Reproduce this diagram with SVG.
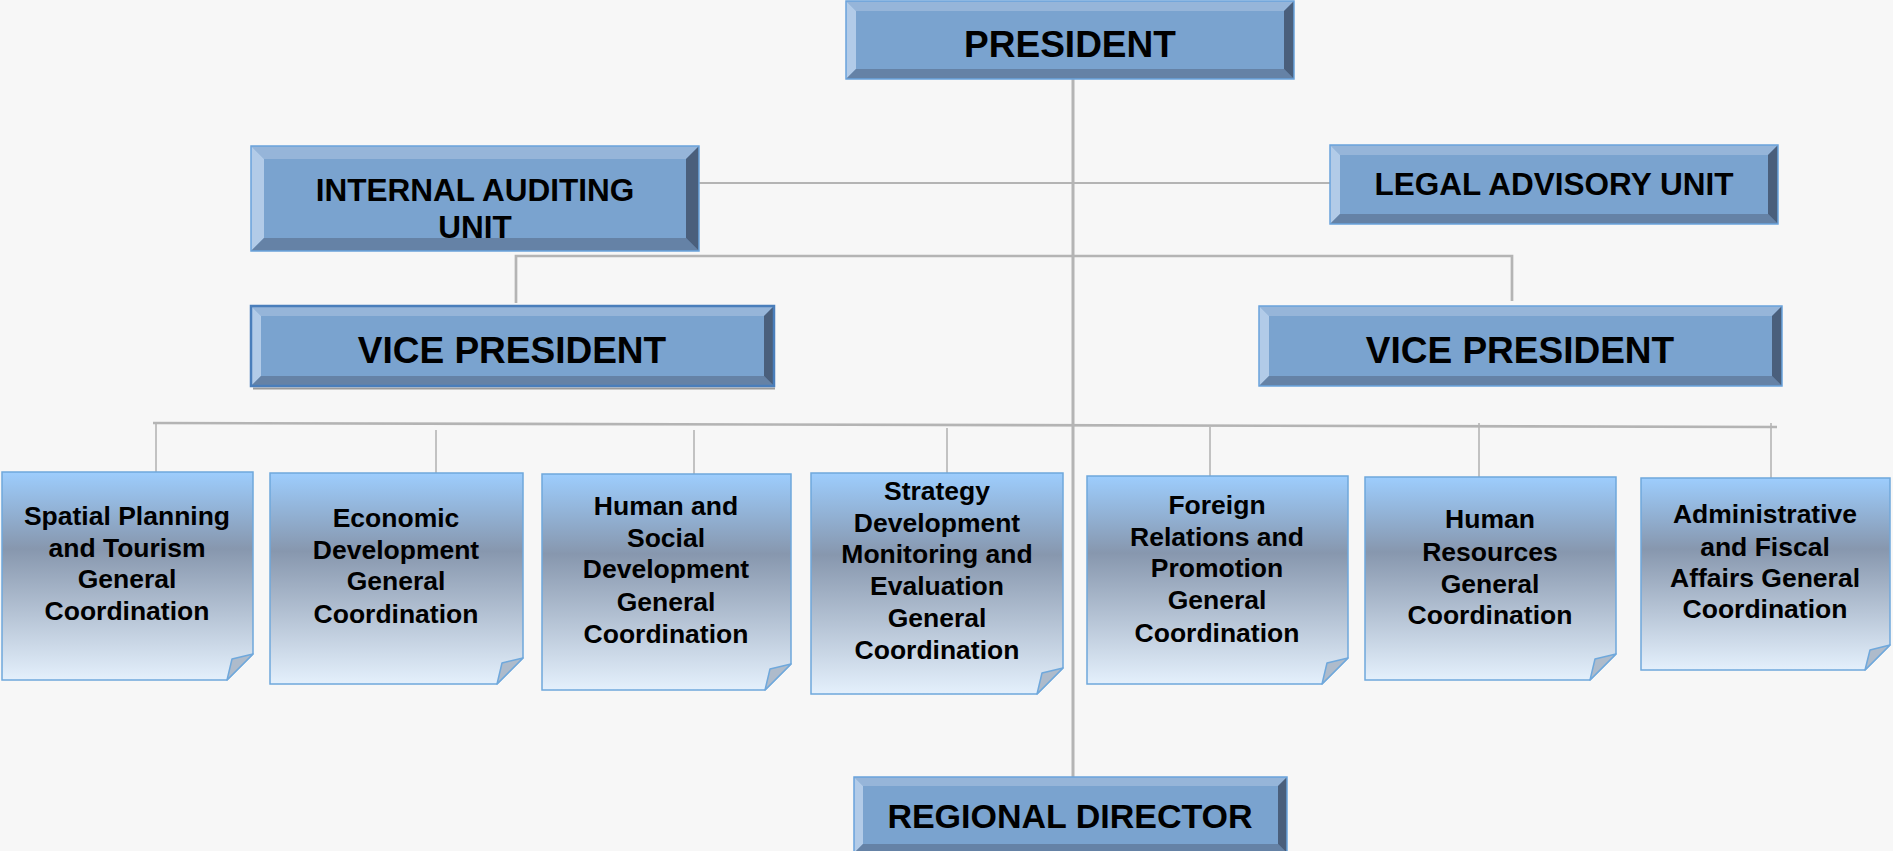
<svg xmlns="http://www.w3.org/2000/svg" width="1893" height="851" viewBox="0 0 1893 851">
<defs>
<linearGradient id="note" x1="0" y1="0" x2="0" y2="1">
<stop offset="0" stop-color="#9dcdfd"/>
<stop offset="0.37" stop-color="#8797ae"/>
<stop offset="1" stop-color="#e4f0fc"/>
</linearGradient>
<style>
.face{fill:#7aa3cf}
.bt{fill:#96b5d9}
.bl{fill:#b2cbe8}
.bb{fill:#6582a6}
.br{fill:#4a5f7c}
.edge{fill:none;stroke:#6aa3dc;stroke-width:1.5}
.edge2{fill:none;stroke:#4a7ebb;stroke-width:2.5}
.big{font-family:"Liberation Sans",Arial,sans-serif;font-weight:bold;fill:#000;text-anchor:middle}
.note{fill:url(#note);stroke:#6fa8dc;stroke-width:1.5}
.fold{fill:#aebbcb;stroke:#6fa8dc;stroke-width:1.5;stroke-linejoin:round}
.nt{font-family:"Liberation Sans",Arial,sans-serif;font-weight:bold;font-size:26.5px;fill:#000;text-anchor:middle}
.ln{stroke:#b4b4b4;fill:none}
</style>
</defs>
<rect x="0" y="0" width="1893" height="851" fill="#f7f7f7"/>

<g id="connectors">
<line class="ln" x1="1073" y1="79" x2="1073" y2="777" stroke-width="3"/>
<line class="ln" x1="699" y1="183" x2="1330" y2="183" stroke-width="2"/>
<polyline class="ln" points="516,303 516,256 1512,256 1512,301" stroke-width="2.7"/>
<line class="ln" x1="153" y1="423" x2="1777" y2="427" stroke-width="2.7"/>
<g stroke-width="1.6">
<line class="ln" x1="156" y1="423" x2="156" y2="472"/>
<line class="ln" x1="436" y1="430" x2="436" y2="473"/>
<line class="ln" x1="694" y1="430" x2="694" y2="474"/>
<line class="ln" x1="947" y1="428" x2="947" y2="473"/>
<line class="ln" x1="1210" y1="427" x2="1210" y2="476"/>
<line class="ln" x1="1479" y1="423" x2="1479" y2="477"/>
<line class="ln" x1="1771" y1="423" x2="1771" y2="478"/>
</g>
</g>

<g id="president">
<rect class="face" x="846" y="1" width="448" height="78"/>
<polygon class="bt" points="846,1 1294,1 1284,11 856,11"/>
<polygon class="bl" points="846,1 856,11 856,69 846,79"/>
<polygon class="bb" points="846,79 856,69 1284,69 1294,79"/>
<polygon class="br" points="1294,1 1294,79 1284,69 1284,11"/>
<rect class="edge" x="846" y="1" width="448" height="78"/>
<text class="big" x="1070" y="57" font-size="37">PRESIDENT</text>
</g>

<g id="internal-auditing">
<rect class="face" x="251" y="146" width="448" height="105"/>
<polygon class="bt" points="251,146 699,146 686,159 264,159"/>
<polygon class="bl" points="251,146 264,159 264,238 251,251"/>
<polygon class="bb" points="251,251 264,238 686,238 699,251"/>
<polygon class="br" points="699,146 699,251 686,238 686,159"/>
<rect class="edge" x="251" y="146" width="448" height="105"/>
<text class="big" x="475" y="201" font-size="31.5">INTERNAL AUDITING</text>
<text class="big" x="475" y="238" font-size="31.5">UNIT</text>
</g>

<g id="legal-advisory">
<rect class="face" x="1330" y="145" width="448" height="79"/>
<polygon class="bt" points="1330,145 1778,145 1768,155 1340,155"/>
<polygon class="bl" points="1330,145 1340,155 1340,214 1330,224"/>
<polygon class="bb" points="1330,224 1340,214 1768,214 1778,224"/>
<polygon class="br" points="1778,145 1778,224 1768,214 1768,155"/>
<rect class="edge" x="1330" y="145" width="448" height="79"/>
<text class="big" x="1554" y="195" font-size="31.5">LEGAL ADVISORY UNIT</text>
</g>

<g id="vice-president-left">
<line x1="253" y1="388.5" x2="775" y2="388.5" stroke="#9a9a9a" stroke-width="2"/>
<rect class="face" x="251" y="306" width="523" height="80"/>
<polygon class="bt" points="251,306 774,306 764,316 261,316"/>
<polygon class="bl" points="251,306 261,316 261,376 251,386"/>
<polygon class="bb" points="251,386 261,376 764,376 774,386"/>
<polygon class="br" points="774,306 774,386 764,376 764,316"/>
<rect class="edge2" x="251" y="306" width="523" height="80"/>
<text class="big" x="512" y="363" font-size="37">VICE PRESIDENT</text>
</g>

<g id="vice-president-right">
<rect class="face" x="1259" y="306" width="523" height="80"/>
<polygon class="bt" points="1259,306 1782,306 1772,316 1269,316"/>
<polygon class="bl" points="1259,306 1269,316 1269,376 1259,386"/>
<polygon class="bb" points="1259,386 1269,376 1772,376 1782,386"/>
<polygon class="br" points="1782,306 1782,386 1772,376 1772,316"/>
<rect class="edge" x="1259" y="306" width="523" height="80"/>
<text class="big" x="1520" y="363" font-size="37">VICE PRESIDENT</text>
</g>

<g id="regional-director">
<rect class="face" x="854" y="777" width="433" height="76"/>
<polygon class="bt" points="854,777 1287,777 1278,786 863,786"/>
<polygon class="bl" points="854,777 863,786 863,844 854,853"/>
<polygon class="bb" points="854,853 863,844 1278,844 1287,853"/>
<polygon class="br" points="1287,777 1287,853 1278,844 1278,786"/>
<rect class="edge" x="854" y="777" width="433" height="76"/>
<text class="big" x="1070" y="828" font-size="34">REGIONAL DIRECTOR</text>
</g>

<g id="spatial-planning">
<path class="note" d="M2,472 H253 V654 L227,680 H2 Z"/>
<polygon class="fold" points="253,654 232,659 227,680"/>
<text class="nt"><tspan x="127" y="525">Spatial Planning</tspan><tspan x="127" y="557">and Tourism</tspan><tspan x="127" y="588">General</tspan><tspan x="127" y="620">Coordination</tspan></text>
</g>

<g id="economic-development">
<path class="note" d="M270,473 H523 V658 L497,684 H270 Z"/>
<polygon class="fold" points="523,658 502,663 497,684"/>
<text class="nt"><tspan x="396" y="527">Economic</tspan><tspan x="396" y="559">Development</tspan><tspan x="396" y="590">General</tspan><tspan x="396" y="623">Coordination</tspan></text>
</g>

<g id="human-social-development">
<path class="note" d="M542,474 H791 V664 L765,690 H542 Z"/>
<polygon class="fold" points="791,664 770,669 765,690"/>
<text class="nt"><tspan x="666" y="515">Human and</tspan><tspan x="666" y="547">Social</tspan><tspan x="666" y="578">Development</tspan><tspan x="666" y="611">General</tspan><tspan x="666" y="643">Coordination</tspan></text>
</g>

<g id="strategy-development">
<path class="note" d="M811,473 H1063 V668 L1037,694 H811 Z"/>
<polygon class="fold" points="1063,668 1042,673 1037,694"/>
<text class="nt"><tspan x="937" y="500">Strategy</tspan><tspan x="937" y="532">Development</tspan><tspan x="937" y="563">Monitoring and</tspan><tspan x="937" y="595">Evaluation</tspan><tspan x="937" y="627">General</tspan><tspan x="937" y="659">Coordination</tspan></text>
</g>

<g id="foreign-relations">
<path class="note" d="M1087,476 H1348 V658 L1322,684 H1087 Z"/>
<polygon class="fold" points="1348,658 1327,663 1322,684"/>
<text class="nt"><tspan x="1217" y="514">Foreign</tspan><tspan x="1217" y="546">Relations and</tspan><tspan x="1217" y="577">Promotion</tspan><tspan x="1217" y="609">General</tspan><tspan x="1217" y="642">Coordination</tspan></text>
</g>

<g id="human-resources">
<path class="note" d="M1365,477 H1616 V654 L1590,680 H1365 Z"/>
<polygon class="fold" points="1616,654 1595,659 1590,680"/>
<text class="nt"><tspan x="1490" y="528">Human</tspan><tspan x="1490" y="561">Resources</tspan><tspan x="1490" y="593">General</tspan><tspan x="1490" y="624">Coordination</tspan></text>
</g>

<g id="administrative-fiscal">
<path class="note" d="M1641,478 H1890 V645 L1865,670 H1641 Z"/>
<polygon class="fold" points="1890,645 1870,650 1865,670"/>
<text class="nt"><tspan x="1765" y="523">Administrative</tspan><tspan x="1765" y="556">and Fiscal</tspan><tspan x="1765" y="587">Affairs General</tspan><tspan x="1765" y="618">Coordination</tspan></text>
</g>
</svg>
